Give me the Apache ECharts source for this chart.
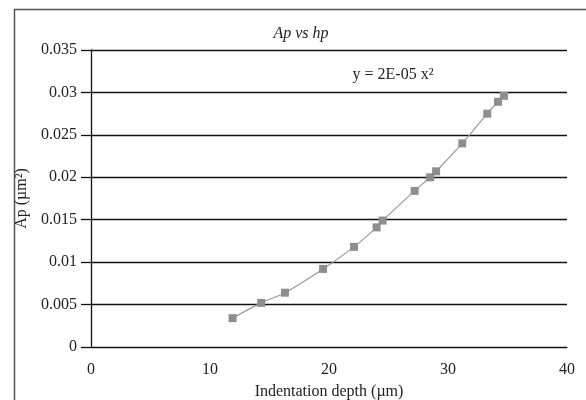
<!DOCTYPE html>
<html>
<head>
<meta charset="utf-8">
<title>Ap vs hp</title>
<script src="https://cdn.jsdelivr.net/npm/echarts@6/dist/echarts.min.js"></script>
<style>
  html, body { margin: 0; padding: 0; background: #fff; }
  #chart { width: 586px; height: 400px; }
</style>
</head>
<body>
<div id="chart"></div>
<script>
// indentation depth (µm) and projected area (µm²)
var depth = [11.9, 14.3, 16.3, 19.5, 22.1, 24.0, 24.5, 27.2, 28.5, 29.0, 31.2, 33.3, 34.2, 34.7];
var area = [0.0034, 0.0052, 0.0064, 0.0092, 0.0118, 0.0141, 0.0149, 0.0184, 0.0200, 0.0207, 0.0240, 0.0275, 0.0289, 0.0296];
var xTicks = [0, 10, 20, 30, 40];
var yTicks = [0, 0.005, 0.01, 0.015, 0.02, 0.025, 0.03, 0.035];

var font = 'Liberation Serif';
var points = depth.map(function (d, i) { return [d, area[i]]; });

var chart = echarts.init(document.getElementById('chart'));
chart.setOption({
  animation: false,
  backgroundColor: '#fff',
  textStyle: { fontFamily: font },
  title: [
    {
      text: 'Ap vs hp',
      left: 296, top: 21, textAlign: 'center',
      textStyle: { fontFamily: font, fontStyle: 'italic', fontWeight: 'normal', fontSize: 16, color: '#222' }
    },
    {
      text: 'y = 2E-05 x²',
      left: 388, top: 62, textAlign: 'center',
      textStyle: { fontFamily: font, fontWeight: 'normal', fontSize: 16, color: '#222' }
    }
  ],
  graphic: [{
    type: 'rect',
    left: 12, top: 7,
    shape: { width: 620, height: 420 },
    style: { fill: 'none', stroke: '#555', lineWidth: 1.5 },
    silent: true
  }],
  grid: { left: 91, right: 19, top: 50, bottom: 53, outerBoundsMode: 'none', containLabel: false },
  xAxis: {
    type: 'value',
    min: xTicks[0], max: xTicks[xTicks.length - 1], interval: 10,
    name: 'Indentation depth (µm)',
    nameLocation: 'middle', nameGap: 37,
    nameTextStyle: { fontFamily: font, fontSize: 16, color: '#222' },
    axisLine: { show: true, lineStyle: { color: '#111', width: 1.2 } },
    axisTick: { show: false },
    splitLine: { show: false },
    axisLabel: { fontFamily: font, fontSize: 16, color: '#222', margin: 15 }
  },
  yAxis: {
    type: 'value',
    min: yTicks[0], max: yTicks[yTicks.length - 1], interval: 0.005,
    name: 'Ap (µm²)',
    nameLocation: 'middle', nameGap: 61,
    nameTextStyle: { fontFamily: font, fontSize: 16, color: '#222' },
    axisLine: { show: true, lineStyle: { color: '#111', width: 1.3 } },
    axisTick: { show: true, length: 10, lineStyle: { color: '#111', width: 1.3 } },
    splitLine: { show: true, lineStyle: { color: '#111', width: 1.3 } },
    axisLabel: {
      fontFamily: font, fontSize: 16, color: '#222', margin: 14,
      formatter: function (v) { return String(+v.toFixed(3)); }
    }
  },
  series: [{
    type: 'line',
    data: points,
    smooth: 0.3,
    symbol: 'rect',
    symbolSize: 8,
    lineStyle: { color: '#9a9a9a', width: 1.2 },
    itemStyle: { color: '#8e8e8e' },
    z: 3
  }]
});
</script>
</body>
</html>
